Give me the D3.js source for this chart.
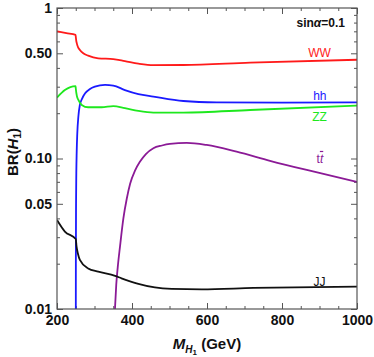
<!DOCTYPE html>
<html>
<head>
<meta charset="utf-8">
<script src="https://cdn.jsdelivr.net/npm/d3@7"></script>
<style>
  body { margin: 0; background: #fff; }
  text { font-family: "Liberation Sans", Arial, sans-serif; }
</style>
</head>
<body>
<div id="chart"></div>
<script>
// branching ratios of H1 vs mass (GeV)
var ww = [[200,0.70],[225,0.68],[249.5,0.662],[250.2,0.64],[251,0.615],[253,0.58],[256,0.55],[261,0.526],[270,0.50],[283,0.482],[310,0.463],[350,0.458],[381,0.444],[417,0.427],[457,0.417],[537,0.418],[715,0.433],[1000,0.453]];
var hh = [[250,0.004],[250.3,0.02],[250.8,0.05],[251.5,0.08],[252.5,0.11],[254,0.145],[257,0.19],[261,0.227],[267,0.25],[275,0.271],[288,0.29],[301,0.30],[328,0.308],[350,0.305],[381,0.285],[417,0.268],[457,0.258],[537,0.241],[626,0.236],[800,0.235],[1000,0.236]];
var zz = [[200,0.254],[221,0.285],[249.5,0.303],[250.2,0.29],[253,0.26],[257,0.245],[266,0.227],[283,0.219],[319,0.219],[350,0.223],[381,0.216],[417,0.207],[457,0.202],[537,0.202],[715,0.210],[1000,0.225]];
var tt = [[353,0.008],[355,0.0105],[358,0.0145],[362,0.019],[368,0.026],[377,0.040],[386,0.054],[395,0.068],[408,0.083],[421,0.095],[437,0.107],[457,0.117],[480,0.122],[501,0.125],[546,0.127],[599,0.123],[679,0.111],[768,0.0966],[866,0.0839],[1000,0.070]];
var jj = [[200,0.039],[221,0.0327],[250,0.0292],[252,0.0262],[256,0.0232],[261,0.0212],[283,0.0186],[310,0.0177],[355,0.0166],[372,0.016],[417,0.0147],[461,0.0139],[506,0.0136],[586,0.0135],[724,0.0138],[1000,0.0141]];

var xMajor = [200, 400, 600, 800, 1000];
var xMinor = [250, 300, 350, 450, 500, 550, 650, 700, 750, 850, 900, 950];
var yMajor = [0.01, 0.05, 0.1, 0.5, 1];
var yMajorLabels = ["0.01", "0.05", "0.10", "0.50", "1"];
var yMinor = [0.02, 0.03, 0.04, 0.06, 0.07, 0.08, 0.09, 0.2, 0.3, 0.4, 0.6, 0.7, 0.8, 0.9];

var series = [
  { name: "WW", data: ww, color: "#ff1a1a", lx: 900, ly: 0.475 },
  { name: "hh", data: hh, color: "#1a1aff", lx: 901, ly: 0.245 },
  { name: "ZZ", data: zz, color: "#1ee81e", lx: 900, ly: 0.178 },
  { name: "tt", data: tt, color: "#8b1a96", lx: 901, ly: 0.0935 },
  { name: "JJ", data: jj, color: "#111111", lx: 900, ly: 0.0142 }
];

var margin = { top: 8, right: 17, bottom: 48, left: 57 },
  width = 374 - margin.left - margin.right,
  height = 357 - margin.top - margin.bottom;

var x = d3.scaleLinear().domain([200, 1000]).range([0, width]);
var y = d3.scaleLog().domain([0.01, 1]).range([height, 0]);

var svg = d3
  .select("#chart")
  .append("svg")
  .attr("width", width + margin.left + margin.right)
  .attr("height", height + margin.top + margin.bottom)
  .append("g")
  .attr("transform", "translate(" + margin.left + "," + margin.top + ")");

svg.append("clipPath").attr("id", "clip")
  .append("rect").attr("width", width).attr("height", height);

// axes (ticks point inward on all four sides)
function styleAxis(g) {
  g.select(".domain").remove();
  g.selectAll(".tick line").attr("stroke", "#555");
  g.selectAll("text")
    .attr("fill", "#111")
    .style("font-size", "14px")
    .style("font-weight", "bold");
}

svg.append("g")
  .attr("transform", "translate(0," + height + ")")
  .call(d3.axisBottom(x).tickValues(xMajor).tickSize(-6).tickPadding(6).tickFormat(d3.format("d")))
  .call(styleAxis);
svg.append("g")
  .attr("transform", "translate(0," + height + ")")
  .call(d3.axisBottom(x).tickValues(xMinor).tickSize(-3).tickFormat(""))
  .call(styleAxis);
svg.append("g")
  .call(d3.axisTop(x).tickValues(xMajor).tickSize(-6).tickFormat(""))
  .call(styleAxis);
svg.append("g")
  .call(d3.axisTop(x).tickValues(xMinor).tickSize(-3).tickFormat(""))
  .call(styleAxis);

svg.append("g")
  .call(d3.axisLeft(y).tickValues(yMajor).tickSize(-6).tickPadding(5)
    .tickFormat(function(d, i) { return yMajorLabels[i]; }))
  .call(styleAxis);
svg.append("g")
  .call(d3.axisLeft(y).tickValues(yMinor).tickSize(-3).tickFormat(""))
  .call(styleAxis);
svg.append("g")
  .attr("transform", "translate(" + width + ",0)")
  .call(d3.axisRight(y).tickValues(yMajor).tickSize(-6).tickFormat(""))
  .call(styleAxis);
svg.append("g")
  .attr("transform", "translate(" + width + ",0)")
  .call(d3.axisRight(y).tickValues(yMinor).tickSize(-3).tickFormat(""))
  .call(styleAxis);

// curves
var line = d3.line()
  .x(function(d) { return x(d[0]); })
  .y(function(d) { return y(d[1]); })
  .curve(d3.curveMonotoneX);

svg.append("g")
  .attr("clip-path", "url(#clip)")
  .selectAll("path")
  .data(series)
  .enter()
  .append("path")
  .attr("d", function(d) { return line(d.data); })
  .attr("fill", "none")
  .attr("stroke", function(d) { return d.color; })
  .attr("stroke-width", 1.8);

// frame
svg.append("rect")
  .attr("width", width)
  .attr("height", height)
  .attr("fill", "none")
  .attr("stroke", "#555")
  .attr("stroke-width", 1.2);

// curve labels
var labels = svg.selectAll("text.lbl")
  .data(series)
  .enter()
  .append("text")
  .attr("class", "lbl")
  .attr("x", function(d) { return x(d.lx); })
  .attr("y", function(d) { return y(d.ly); })
  .attr("text-anchor", "middle")
  .attr("fill", function(d) { return d.color; })
  .style("font-size", "12px");
labels.filter(function(d) { return d.name != "tt"; }).text(function(d) { return d.name; });
var ttl = labels.filter(function(d) { return d.name == "tt"; });
ttl.append("tspan").text("t");
ttl.append("tspan").style("font-style", "italic").style("text-decoration", "overline").text("t");

// annotation
var ann = svg.append("text")
  .attr("x", width - 12)
  .attr("y", 19)
  .attr("text-anchor", "end")
  .style("font-size", "12px")
  .style("font-weight", "bold")
  .attr("fill", "#111");
ann.append("tspan").text("sin");
ann.append("tspan").style("font-style", "italic").text("α");
ann.append("tspan").text("=0.1");

// axis titles
var xt = svg.append("text")
  .attr("x", 150)
  .attr("y", height + 40)
  .attr("text-anchor", "middle")
  .style("font-size", "15px")
  .style("font-weight", "bold")
  .attr("fill", "#111");
xt.append("tspan").style("font-style", "italic").text("M");
xt.append("tspan").attr("dy", 4).style("font-size", "10px").style("font-style", "italic").text("H");
xt.append("tspan").attr("dy", 2).style("font-size", "8px").text("1");
xt.append("tspan").attr("dy", -6).text(" (GeV)");

var yt = svg.append("text")
  .attr("transform", "translate(" + (18 - margin.left) + "," + 144 + ") rotate(-90)")
  .attr("text-anchor", "middle")
  .style("font-size", "15px")
  .style("font-weight", "bold")
  .attr("fill", "#111");
yt.append("tspan").text("BR(");
yt.append("tspan").style("font-style", "italic").text("H");
yt.append("tspan").attr("dy", 3).style("font-size", "10px").text("1");
yt.append("tspan").attr("dy", -3).text(")");
</script>
</body>
</html>
